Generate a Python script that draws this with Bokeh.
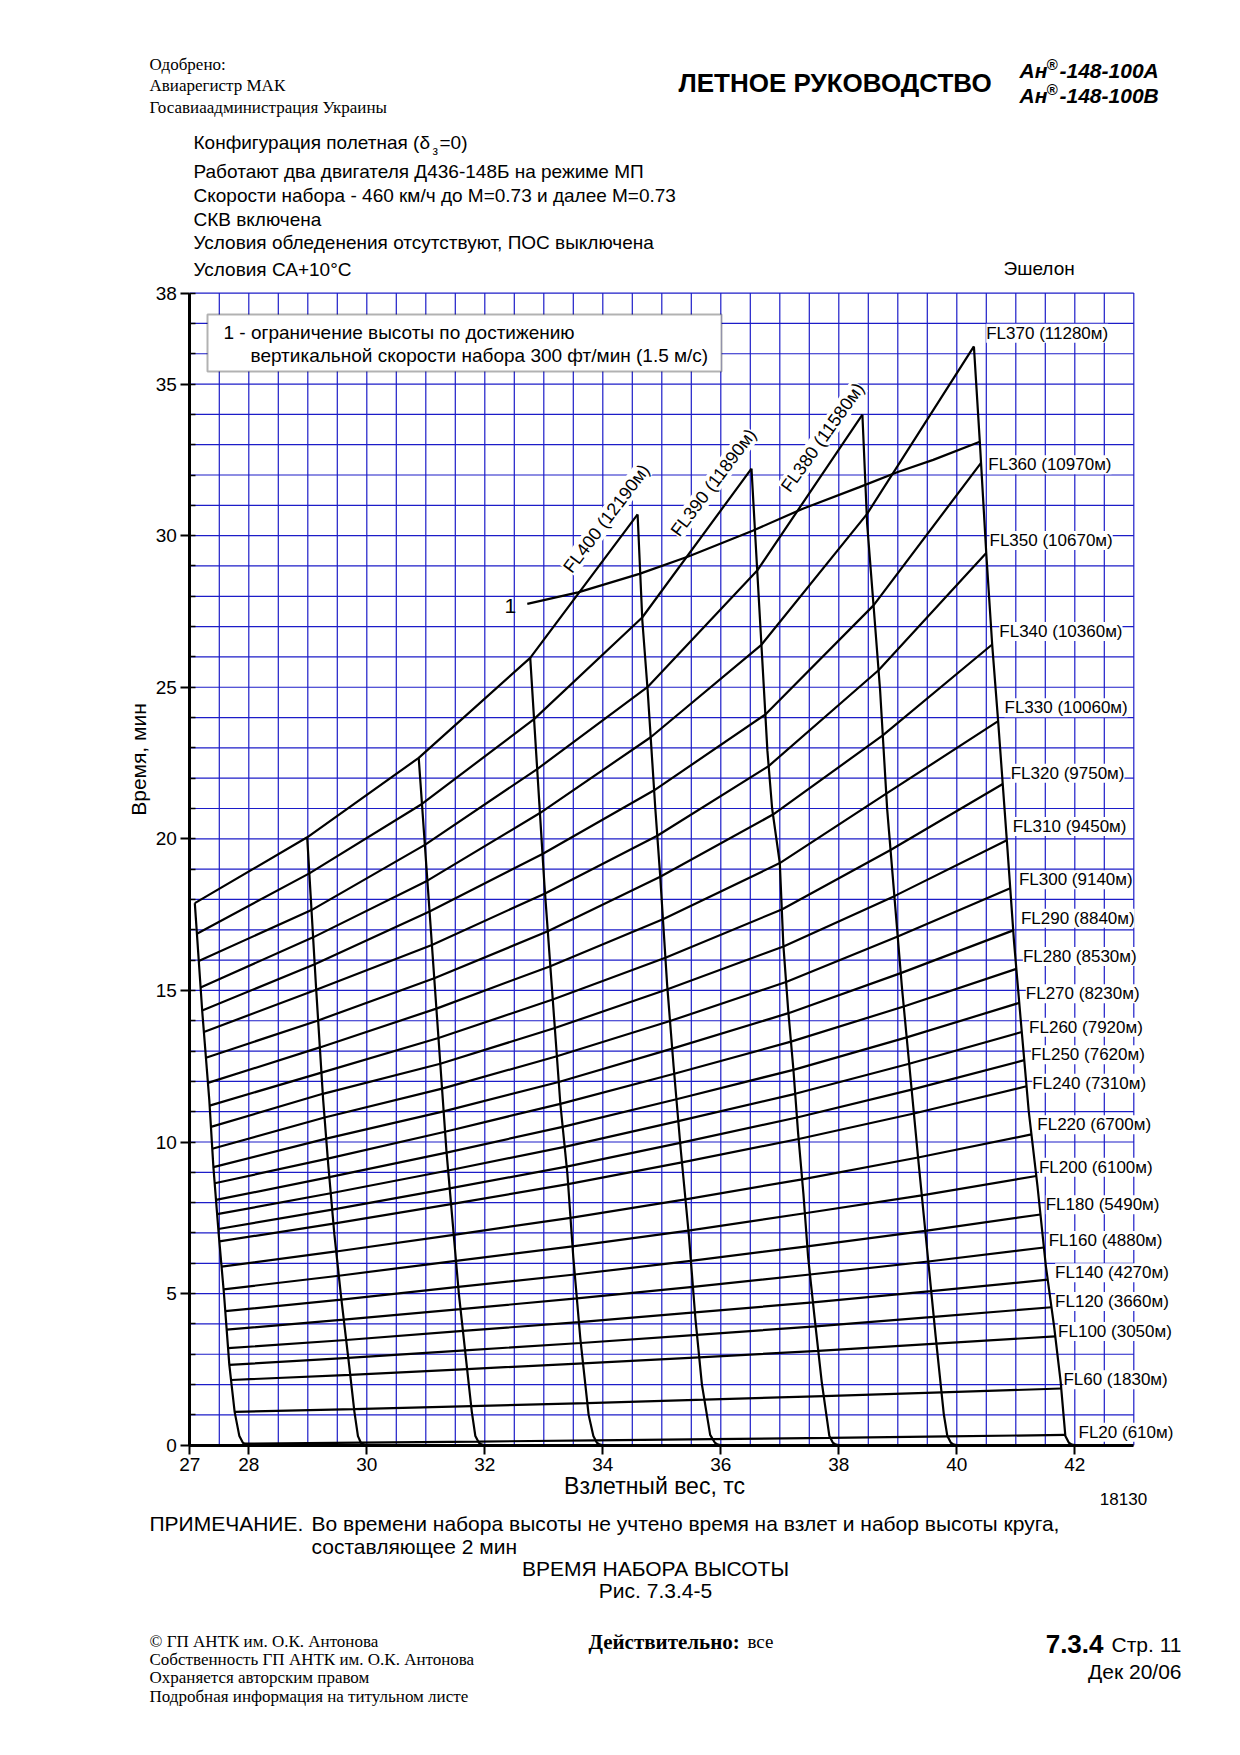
import numpy as np
from bokeh.plotting import figure
from bokeh.models import Range1d, Label, FixedTicker, BoxAnnotation
from bokeh.embed import file_html
from bokeh.resources import INLINE

# ---------------- data ----------------
WEIGHTS = [28, 30, 32, 34, 36, 38, 40, 42]

# guide lines of constant take-off weight: (time, weight) points
GUIDE_T = {
    28: [0, 0.02, 0.08, 0.3, 1.1, 2.65, 4.97, 6.96, 9.17, 11.4, 14.33, 17.88],
    30: [0, 0.02, 0.08, 0.3, 1.1, 2.65, 4.97, 6.96, 9.17, 11.4, 15.1, 20.05],
    32: [0, 0.02, 0.08, 0.3, 1.1, 5.0, 9.7, 22.67],
    34: [0, 0.02, 0.08, 0.3, 1.0, 3.5, 6.2, 8.95, 11.27, 18.5, 25.97],
    36: [0, 0.02, 0.08, 0.34, 2.0, 4.17, 6.9, 9.77, 12.5, 15.2, 18.85, 21.0, 24.9, 27.2, 30.70],
    38: [0, 0.02, 0.08, 0.3, 2.1, 4.2, 6.2, 8.3, 10.3, 12.4, 14.4, 16.5, 19.2, 21.0, 22.9, 26.0, 28.75, 32.21],
    40: [0, 0.02, 0.08, 0.3, 1.02, 3.62, 9.36, 15.1, 20.97, 24.9, 27.67, 30.4, 33.99],
    42: [0, 0.02, 0.08, 0.3, 2.1, 3.9, 5.9, 8.5, 11.0, 14.1, 16.6, 19.9, 23.9, 26.4, 29.4, 33.1, 36.24],
}
GUIDE_W = {
    28: [28.0, 27.95, 27.9, 27.84, 27.76, 27.67, 27.58, 27.49, 27.4, 27.33, 27.21, 27.085],
    30: [30.0, 29.95, 29.9, 29.85, 29.79, 29.7, 29.56, 29.45, 29.35, 29.26, 29.14, 28.99],
    32: [32.0, 31.95, 31.9, 31.84, 31.78, 31.56, 31.35, 30.88],
    34: [34.0, 33.95, 33.9, 33.84, 33.76, 33.62, 33.5, 33.4, 33.28, 33.01, 32.77],
    36: [36.0, 35.95, 35.9, 35.82, 35.68, 35.57, 35.46, 35.32, 35.2, 35.09, 34.97, 34.89, 34.76, 34.67, 34.59],
    38: [38.0, 37.95, 37.9, 37.84, 37.71, 37.59, 37.48, 37.4, 37.31, 37.23, 37.14, 37.06, 37.0, 36.87, 36.79, 36.7, 36.62, 36.52],
    40: [40.0, 39.95, 39.9, 39.84, 39.78, 39.64, 39.35, 39.07, 38.82, 38.7, 38.59, 38.48, 38.4],
    42: [42.0, 41.95, 41.9, 41.84, 41.76, 41.65, 41.51, 41.37, 41.22, 41.08, 40.97, 40.85, 40.7, 40.6, 40.5, 40.39, 40.29],
}

FL_LEVELS = [20, 60, 100, 120, 140, 160, 180, 200, 220, 240, 250, 260, 270,
             280, 290, 300, 310, 320, 330, 340, 350, 360, 370, 380, 390, 400]
FL_METERS = [610, 1830, 3050, 3660, 4270, 4880, 5490, 6100, 6700, 7310, 7620, 7920, 8230,
             8530, 8840, 9140, 9450, 9750, 10060, 10360, 10670, 10970, 11280, 11580, 11890, 12190]

# climb time (min) where each flight level line crosses the weight lines 28..42
FL_TIMES = {
    20:  [0.05, 0.085, 0.12, 0.16, 0.20, 0.24, 0.29, 0.34],
    60:  [1.10, 1.19, 1.29, 1.39, 1.50, 1.62, 1.74, 1.87],
    100: [2.15, 2.32, 2.51, 2.70, 2.90, 3.11, 3.35, 3.59],
    120: [2.65, 2.88, 3.13, 3.37, 3.64, 3.92, 4.23, 4.55],
    140: [3.20, 3.47, 3.77, 4.06, 4.38, 4.71, 5.08, 5.46],
    160: [3.81, 4.14, 4.49, 4.84, 5.22, 5.63, 6.06, 6.52],
    180: [4.42, 4.80, 5.22, 5.63, 6.08, 6.56, 7.07, 7.61],
    200: [5.14, 5.59, 6.08, 6.56, 7.08, 7.65, 8.24, 8.88],
    220: [5.89, 6.39, 6.94, 7.50, 8.11, 8.77, 9.49, 10.25],
    240: [6.72, 7.31, 7.95, 8.61, 9.33, 10.10, 10.94, 11.84],
    250: [7.13, 7.77, 8.47, 9.19, 9.97, 10.81, 11.73, 12.70],
    260: [7.62, 8.31, 9.06, 9.84, 10.69, 11.59, 12.58, 13.63],
    270: [8.09, 8.84, 9.65, 10.50, 11.41, 12.38, 13.45, 14.59],
    280: [8.64, 9.45, 10.34, 11.26, 12.25, 13.31, 14.47, 15.71],
    290: [9.17, 10.11, 11.01, 11.98, 13.08, 14.25, 15.57, 16.98],
    300: [9.78, 10.81, 11.76, 12.83, 13.99, 15.28, 16.78, 18.37],
    310: [10.50, 11.59, 12.58, 13.76, 15.04, 16.45, 18.11, 19.95],
    320: [11.20, 12.29, 13.43, 14.70, 16.08, 17.67, 19.63, 21.81],
    330: [11.95, 13.12, 14.40, 15.80, 17.35, 19.20, 21.49, 23.88],
    340: [12.78, 14.01, 15.40, 16.95, 18.75, 20.80, 23.41, 26.41],
    350: [13.63, 15.02, 16.50, 18.20, 20.10, 22.40, 25.56, 29.43],
    360: [14.34, 15.86, 17.60, 19.50, 21.60, 24.10, 27.70, 32.40],
    370: [15.10, 16.75, 18.62, 20.85, 23.35, 26.40, 30.70, 36.24],
    380: [15.97, 17.65, 19.80, 22.30, 25.00, 28.85, 33.99, None],
    390: [16.87, 18.86, 21.15, 23.95, 27.30, 32.21, None, None],
    400: [17.88, 20.05, 22.67, 25.97, 30.70, None, None, None],
}

# line 1: limit at 300 ft/min vertical speed
LIMIT_W = [32.72, 33.58, 34.62, 35.45, 36.55, 37.39, 38.35, 39.0, 39.6, 40.39]
LIMIT_T = [27.75, 28.13, 28.74, 29.31, 30.17, 30.89, 31.6, 32.1, 32.5, 33.1]

X_TICKS = [27, 28, 30, 32, 34, 36, 38, 40, 42]
Y_TICKS = [0, 5, 10, 15, 20, 25, 30, 35, 38]

# ---------------- layout ----------------
# the plot frame covers the whole canvas; the chart box (27..43, 0..38) sits where
# it is on the page, and the axes are pinned to x=27 and t=0.
PW, PH = 1224, 1739
OX, OY = 0.0, 0.0                                             # canvas origin on the page
BOX_L, BOX_R, BOX_T, BOX_B = 189.3, 1133.3, 292.6, 1444.7   # page pixels of the chart box
X0, X1, Y0, Y1 = 27.0, 43.0, 0.0, 38.0
SX = (BOX_R - BOX_L) / (X1 - X0)
SY = (BOX_B - BOX_T) / (Y1 - Y0)
XS = X0 - (BOX_L - OX) / SX
XE = XS + PW / SX
YS = Y0 - (OY + PH - BOX_B) / SY
YE = YS + PH / SY


def dx(px):
    return XS + (px - OX) / SX


def dy(py):
    return YS + (OY + PH - py) / SY


SANS = "Liberation Sans"
SERIF = "Liberation Serif"
BLUE = "#1c1cc8"

p = figure(width=PW, height=PH, x_range=Range1d(XS, XE), y_range=Range1d(YS, YE),
           output_backend="svg", toolbar_location=None,
           min_border=0, min_border_left=0, min_border_right=0,
           min_border_top=0, min_border_bottom=0)
p.title.visible = False
p.outline_line_color = None
p.background_fill_color = "white"
p.border_fill_color = "white"
p.xgrid.visible = False
p.ygrid.visible = False

# chart grid (0.5 tc x 1 min)
gx = [X0 + 0.5 * i for i in range(33)]
gy = list(range(0, 39))
p.segment(x0=gx, y0=[Y0] * len(gx), x1=gx, y1=[Y1] * len(gx), line_color=BLUE, line_width=1.2)
p.segment(x0=[X0] * len(gy), y0=gy, x1=[X1] * len(gy), y1=gy, line_color=BLUE, line_width=1.2)

# axes pinned inside the frame
p.xaxis.fixed_location = 0
p.yaxis.fixed_location = 27
p.xaxis.bounds = (X0, X1)
p.yaxis.bounds = (Y0, Y1)
p.xaxis.ticker = FixedTicker(ticks=X_TICKS)
p.yaxis.ticker = FixedTicker(ticks=Y_TICKS, minor_ticks=list(range(0, 39)))
for ax in (p.xaxis, p.yaxis):
    ax.axis_line_color = "black"
    ax.axis_line_width = 3
    ax.major_tick_line_color = "black"
    ax.major_tick_line_width = 2
    ax.major_tick_out = 9
    ax.major_tick_in = 0
    ax.major_label_text_font = SANS
    ax.major_label_text_font_size = "19px"
    ax.major_label_text_color = "black"
    ax.major_label_standoff = 4
p.xaxis.minor_tick_line_color = None
p.yaxis.minor_tick_line_color = "black"
p.yaxis.minor_tick_line_width = 1.5
p.yaxis.minor_tick_in = 6
p.yaxis.minor_tick_out = 0

LW = 2.2
# weight guide lines
for w in WEIGHTS:
    p.line(GUIDE_W[w], GUIDE_T[w], line_color="black", line_width=LW)

# flight-level lines
for fl in FL_LEVELS:
    xs, ys = [], []
    for w, t in zip(WEIGHTS, FL_TIMES[fl]):
        if t is None:
            continue
        xs.append(float(np.interp(t, GUIDE_T[w], GUIDE_W[w])))
        ys.append(t)
    p.line(xs, ys, line_color="black", line_width=LW)

# limit line 1
p.line(LIMIT_W, LIMIT_T, line_color="black", line_width=LW)


def txt(s, px, py, size, font=SANS, style="normal", align="left", baseline="middle",
        angle=0.0, bg=None):
    lab = Label(x=dx(px), y=dy(py), text=s, text_font=font, text_font_size=f"{size}px",
                text_font_style=style, text_align=align, text_baseline=baseline,
                text_color="black", angle=angle)
    if bg:
        lab.background_fill_color = bg
    p.add_layout(lab)


# legend box
p.add_layout(BoxAnnotation(left=dx(207), right=dx(721), top=dy(314), bottom=dy(371),
                           fill_color="white", fill_alpha=1.0, line_color="black", line_width=2))
txt("1 - ограничение высоты по достижению", 223, 332, 19)
txt("вертикальной скорости набора 300 фт/мин (1.5 м/с)", 250, 355, 19)
txt("1", 504, 605, 21)

# FL labels at right (page pixel anchors)
FL_LABEL_POS = {
    370: (985.7, 332.7), 360: (987.8, 464.3), 350: (989, 540), 340: (998.8, 631),
    330: (1004, 707.3), 320: (1010.2, 772.7), 310: (1012.2, 826), 300: (1018.4, 879.3),
    290: (1020.4, 917.7), 280: (1022.4, 956), 270: (1025.3, 993.3), 260: (1028.6, 1026.7),
    250: (1030.6, 1054.3), 240: (1031.8, 1082.7), 220: (1036.8, 1124.2), 200: (1038.4, 1166.7),
    180: (1045.2, 1204.3), 160: (1048.2, 1240), 140: (1054.6, 1272.3), 120: (1054.6, 1301),
    100: (1057.6, 1331), 60: (1062.9, 1379.3), 20: (1078, 1431.7),
}
for fl, m in zip(FL_LEVELS, FL_METERS):
    if fl in FL_LABEL_POS:
        px, py = FL_LABEL_POS[fl]
        txt(f"FL{fl} ({m}м)", px, py, 17, bg="white")

ROT_POS = {400: (606, 518, 53.0), 390: (713, 482, 53.0), 380: (822, 437, 54.5)}
for fl, m in zip(FL_LEVELS, FL_METERS):
    if fl in ROT_POS:
        px, py, a = ROT_POS[fl]
        txt(f"FL{fl} ({m}м)", px, py, 18, align="center", angle=np.radians(a), bg="white")

# axis titles
txt("Время, мин", 138, 759, 21, align="center", angle=np.pi / 2)
txt("Взлетный вес, тс", 654, 1485, 23, align="center")
txt("18130", 1123, 1498, 17, align="center")

# header
txt("Одобрено:", 149, 64, 17, font=SERIF)
txt("Авиарегистр МАК", 149, 85, 17, font=SERIF)
txt("Госавиаадминистрация Украины", 149, 107, 17, font=SERIF)
txt("ЛЕТНОЕ РУКОВОДСТВО", 678, 82, 26, style="bold")
for py, ver in ((70, "А"), (95, "В")):
    txt("Ан", 1019, py, 21, style="bold italic")
    txt("®", 1046, py - 6, 15, style="bold italic")
    txt("-148-100" + ver, 1059, py, 21, style="bold italic")

txt("Конфигурация полетная (δ", 193, 142, 19)
txt("з", 432, 150, 12)
txt("=0)", 439, 142, 19)
txt("Работают два двигателя Д436-148Б на режиме МП", 193, 171, 19)
txt("Скорости набора - 460 км/ч до M=0.73 и далее M=0.73", 193, 195, 19)
txt("СКВ включена", 193, 219, 19)
txt("Условия обледенения отсутствуют, ПОС выключена", 193, 242, 19)
txt("Условия СА+10°С", 193, 269, 19)
txt("Эшелон", 1003, 268, 19)

# notes / captions
txt("ПРИМЕЧАНИЕ.", 149, 1523, 21)
txt("Во времени набора высоты не учтено время на взлет и набор высоты круга,", 311, 1523, 21)
txt("составляющее 2 мин", 311, 1546, 21)
txt("ВРЕМЯ НАБОРА ВЫСОТЫ", 655, 1568, 21, align="center")
txt("Рис. 7.3.4-5", 655, 1590, 21, align="center")

# footer
txt("© ГП АНТК им. О.К. Антонова", 149, 1641, 17, font=SERIF)
txt("Собственность ГП АНТК им. О.К. Антонова", 149, 1659, 17, font=SERIF)
txt("Охраняется авторским правом", 149, 1677, 17, font=SERIF)
txt("Подробная информация на титульном листе", 149, 1696, 17, font=SERIF)
txt("Действительно:", 588, 1641, 21, font=SERIF, style="bold")
txt("все", 747, 1641, 19, font=SERIF)
txt("Стр. 11", 1181, 1644, 21, align="right")
txt("7.3.4", 1103, 1643, 26, style="bold", align="right")
txt("Дек 20/06", 1181, 1671, 21, align="right")

open("out.html", "w").write(file_html(p, INLINE))
